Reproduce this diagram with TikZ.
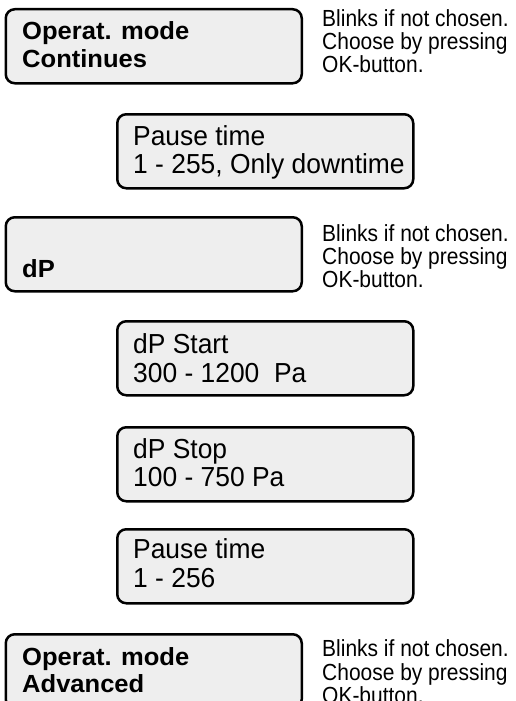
\documentclass[tikz,border=0pt]{standalone}
\usepackage{fontspec}
\setmainfont{Liberation Sans}
\newfontfamily\panelfont[FakeStretch=0.96]{Liberation Sans}
\newfontfamily\notefont[FakeStretch=0.9]{Liberation Sans}
\newfontfamily\modefont[FakeStretch=1.03]{Liberation Sans}
\definecolor{panelgray}{RGB}{238,238,238}

\tikzset{
  panel/.style={draw=black, line width=2.5pt, fill=panelgray, rounded corners=9pt,
    inner sep=0pt, minimum width=296pt, minimum height=74pt, anchor=north west},
  modeline/.style={anchor=base west, inner sep=0pt,
    font=\modefont\bfseries\fontsize{24.8}{28}\selectfont},
  valueline/.style={anchor=base west, inner sep=0pt,
    font=\panelfont\fontsize{27.5}{28}\selectfont},
  noteline/.style={anchor=base west, inner sep=0pt,
    font=\notefont\fontsize{23.3}{23}\selectfont},
}

\begin{document}
\begin{tikzpicture}[x=1pt, y=-1pt]
  \useasboundingbox (0,0) rectangle (515,701);
  \clip (0,0) rectangle (515,701);

  % display panels
  \node[panel] (modeA)   at (4.5,8)   {};
  \node[panel] (pauseA)  at (116,113) {};
  \node[panel] (dpmode)  at (4.5,216) {};
  \node[panel] (dpstart) at (116,320) {};
  \node[panel] (dpstop)  at (116,426) {};
  \node[panel] (pauseB)  at (116,528) {};
  \node[panel] (modeB)   at (4.5,633) {};

  % mode: continuous
  \node[modeline] (modeA1) at (22,40) {Operat. mode};
  \node[modeline] (modeA2) at (22,67) {Continues};
  \node[noteline] (noteA1) at (322,27) {Blinks if not chosen.};
  \node[noteline] (noteA2) at (322,50) {Choose by pressing};
  \node[noteline] (noteA3) at (322,73) {OK-button.};

  % pause time
  \node[valueline] (pauseA1) at (133,145) {Pause time};
  \node[valueline] (pauseA2) at (133,173) {1 - 255, Only downtime};

  % mode: dP
  \node[modeline] (dpmode1) at (22,277) {dP};
  \node[noteline] (noteB1) at (322,241) {Blinks if not chosen.};
  \node[noteline] (noteB2) at (322,264) {Choose by pressing};
  \node[noteline] (noteB3) at (322,287) {OK-button.};

  % dP limits
  \node[valueline] (dpstart1) at (133,353) {dP Start};
  \node[valueline] (dpstart2) at (133,382) {300 - 1200\ \ Pa};
  \node[valueline] (dpstop1)  at (133,458) {dP Stop};
  \node[valueline] (dpstop2)  at (133,486) {100 - 750 Pa};

  % pause time for dP
  \node[valueline] (pauseB1) at (133,558) {Pause time};
  \node[valueline] (pauseB2) at (133,587) {1 - 256};

  % mode: advanced
  \node[modeline] (modeB1) at (22,665) {Operat. mode};
  \node[modeline] (modeB2) at (22,692) {Advanced};
  \node[noteline] (noteC1) at (322,656) {Blinks if not chosen.};
  \node[noteline] (noteC2) at (322,680) {Choose by pressing};
  \node[noteline] (noteC3) at (322,703) {OK-button.};
\end{tikzpicture}
\end{document}
